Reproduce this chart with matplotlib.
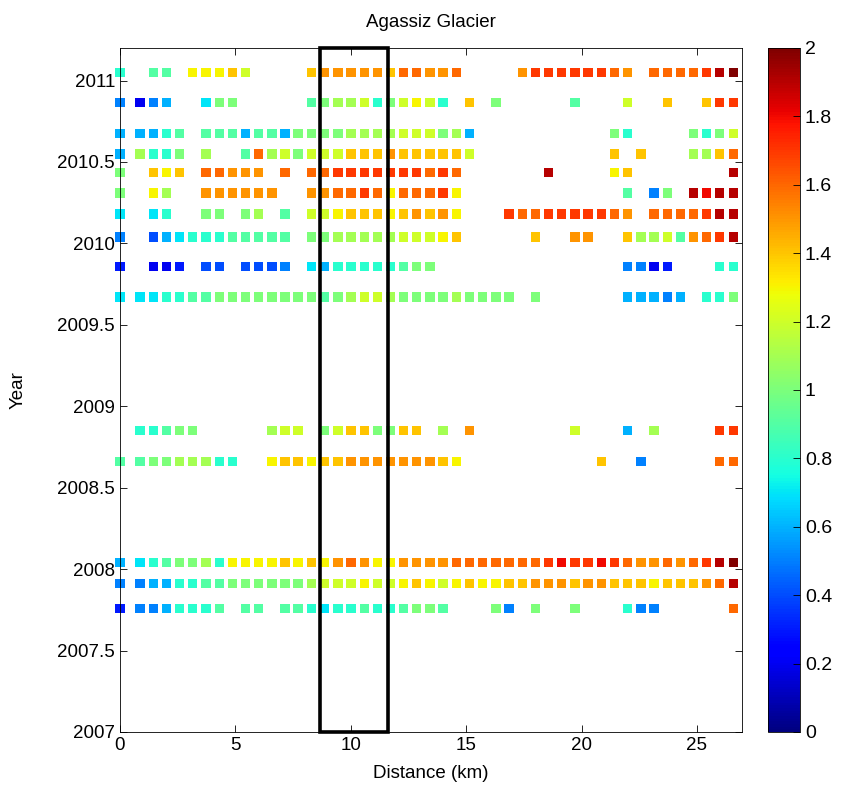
import numpy as np
import matplotlib
matplotlib.use('Agg')
from matplotlib import pyplot as plt
from matplotlib.patches import Rectangle
from matplotlib.ticker import FuncFormatter

plt.rcParams['font.family'] = ['Liberation Sans', 'DejaVu Sans']

# distance of each sample along the flowline (km)
distance = [0.0, 0.87, 1.44, 2.01, 2.58, 3.15, 3.73, 4.30, 4.87, 5.44, 6.01,
            6.58, 7.15, 7.72, 8.29, 8.86, 9.44, 10.01, 10.58, 11.15, 11.72,
            12.29, 12.86, 13.43, 14.00, 14.57, 15.15, 15.72, 16.29, 16.86,
            17.43, 18.00, 18.57, 19.14, 19.71, 20.28, 20.86, 21.43, 22.00,
            22.57, 23.14, 23.71, 24.28, 24.85, 25.42, 25.99, 26.57]

years = [2011.05, 2010.865, 2010.675, 2010.55, 2010.435, 2010.31, 2010.18,
         2010.04, 2009.86, 2009.67, 2008.85, 2008.66, 2008.04, 2007.91, 2007.76]

# one char per distance sample: '.' = no data, '0'..'K' = 0.0 .. 2.0 in steps of 0.1
codes = '0123456789ABCDEFGHIJK'
rows = [
    "8.99.DDDEC....EFFFFFEGGFFG....FHHHHHHGF.GGGGHJK",
    "5256..7AA.....9ABBC8ACDC8.E.A.....9...C..E..EHH",
    "66689.9996996AAAABBBBCCCAB6..........A8....A8AC",
    "6B88A.B..9GBCACCCEEEFEEEEEC..........E.E...BBEG",
    "A.EDE.GGFFF.G.GGHHHHHHHGHG......J....DE.......J",
    "A.DB..FFFFFF..FFGGHGDGGGHD............9.5A.JIJJ",
    "7.78..AA.AB.9.CCDEEEDEFEFD...HGGHHHHHGF.GGGGHJJ",
    "5.46788899999.AABBBBBCCCDE.....E..FF..EBBC9FGHJ",
    "3.223.44.4445.76888889AA..............5523...88",
    "7778899AAAAAAAA9ABCCBAAAABAAAA.A......66656.88A",
    ".889AA.....BCC.ACEEAAEE.B.F.......C...6.B....HH",
    "99AABBB88..DEEDEEFFFFFFFED..........E..5.....GG",
    "6789AAB8DDDDEDEDFGFDDFFFFGGGGGGGHIHHIHGFFGFGHJK",
    "55668899AAAAAABCCCDCCDEDCDEDDEEFFFEFFEEEDEEEFGJ",
    "35568889.99.9987889889AA9...A5.A..A...855.....G",
]

xs, ys, vs = [], [], []
for yr, row in zip(years, rows):
    for d, ch in zip(distance, row):
        if ch != '.':
            xs.append(d)
            ys.append(yr)
            vs.append(codes.index(ch) / 10)

fig = plt.figure(figsize=(8.42, 7.92), dpi=100)
ax = fig.add_axes([0.1425, 0.0758, 0.7387, 0.8636])
sc = ax.scatter(xs, ys, c=vs, cmap='jet', vmin=0, vmax=2, marker='s',
                s=45, linewidths=0, zorder=2, clip_on=False)

# study box
ax.add_patch(Rectangle((8.67, 2007), 2.93, 4.2, fill=False, lw=2.6,
                       ec='k', clip_on=False, zorder=4))

ax.set_xlim(0, 26.95)
ax.set_ylim(2007, 2011.2)
ax.set_xticks([0, 5, 10, 15, 20, 25])
ax.set_yticks([2007, 2007.5, 2008, 2008.5, 2009, 2009.5, 2010, 2010.5, 2011])
ax.yaxis.set_major_formatter(FuncFormatter(lambda v, p: '%g' % v))
ax.tick_params(direction='in', top=True, right=True, labelsize=13.5,
               length=5, width=0.6)
for s in ax.spines.values():
    s.set_linewidth(0.6)
ax.set_xlabel('Distance (km)', fontsize=13.5, labelpad=8)
ax.set_ylabel('Year', fontsize=13.5, labelpad=22)
ax.set_title('Agassiz Glacier', fontsize=13.5, pad=15)

cax = fig.add_axes([0.912, 0.0758, 0.038, 0.8636])
cb = fig.colorbar(sc, cax=cax)
cb.set_ticks([0, 0.2, 0.4, 0.6, 0.8, 1, 1.2, 1.4, 1.6, 1.8, 2])
cb.ax.yaxis.set_major_formatter(FuncFormatter(lambda v, p: '%g' % v))
cax.tick_params(direction='in', labelsize=14, length=5, width=0.6)
cb.outline.set_linewidth(0.6)

fig.savefig('out.png', dpi=100)
